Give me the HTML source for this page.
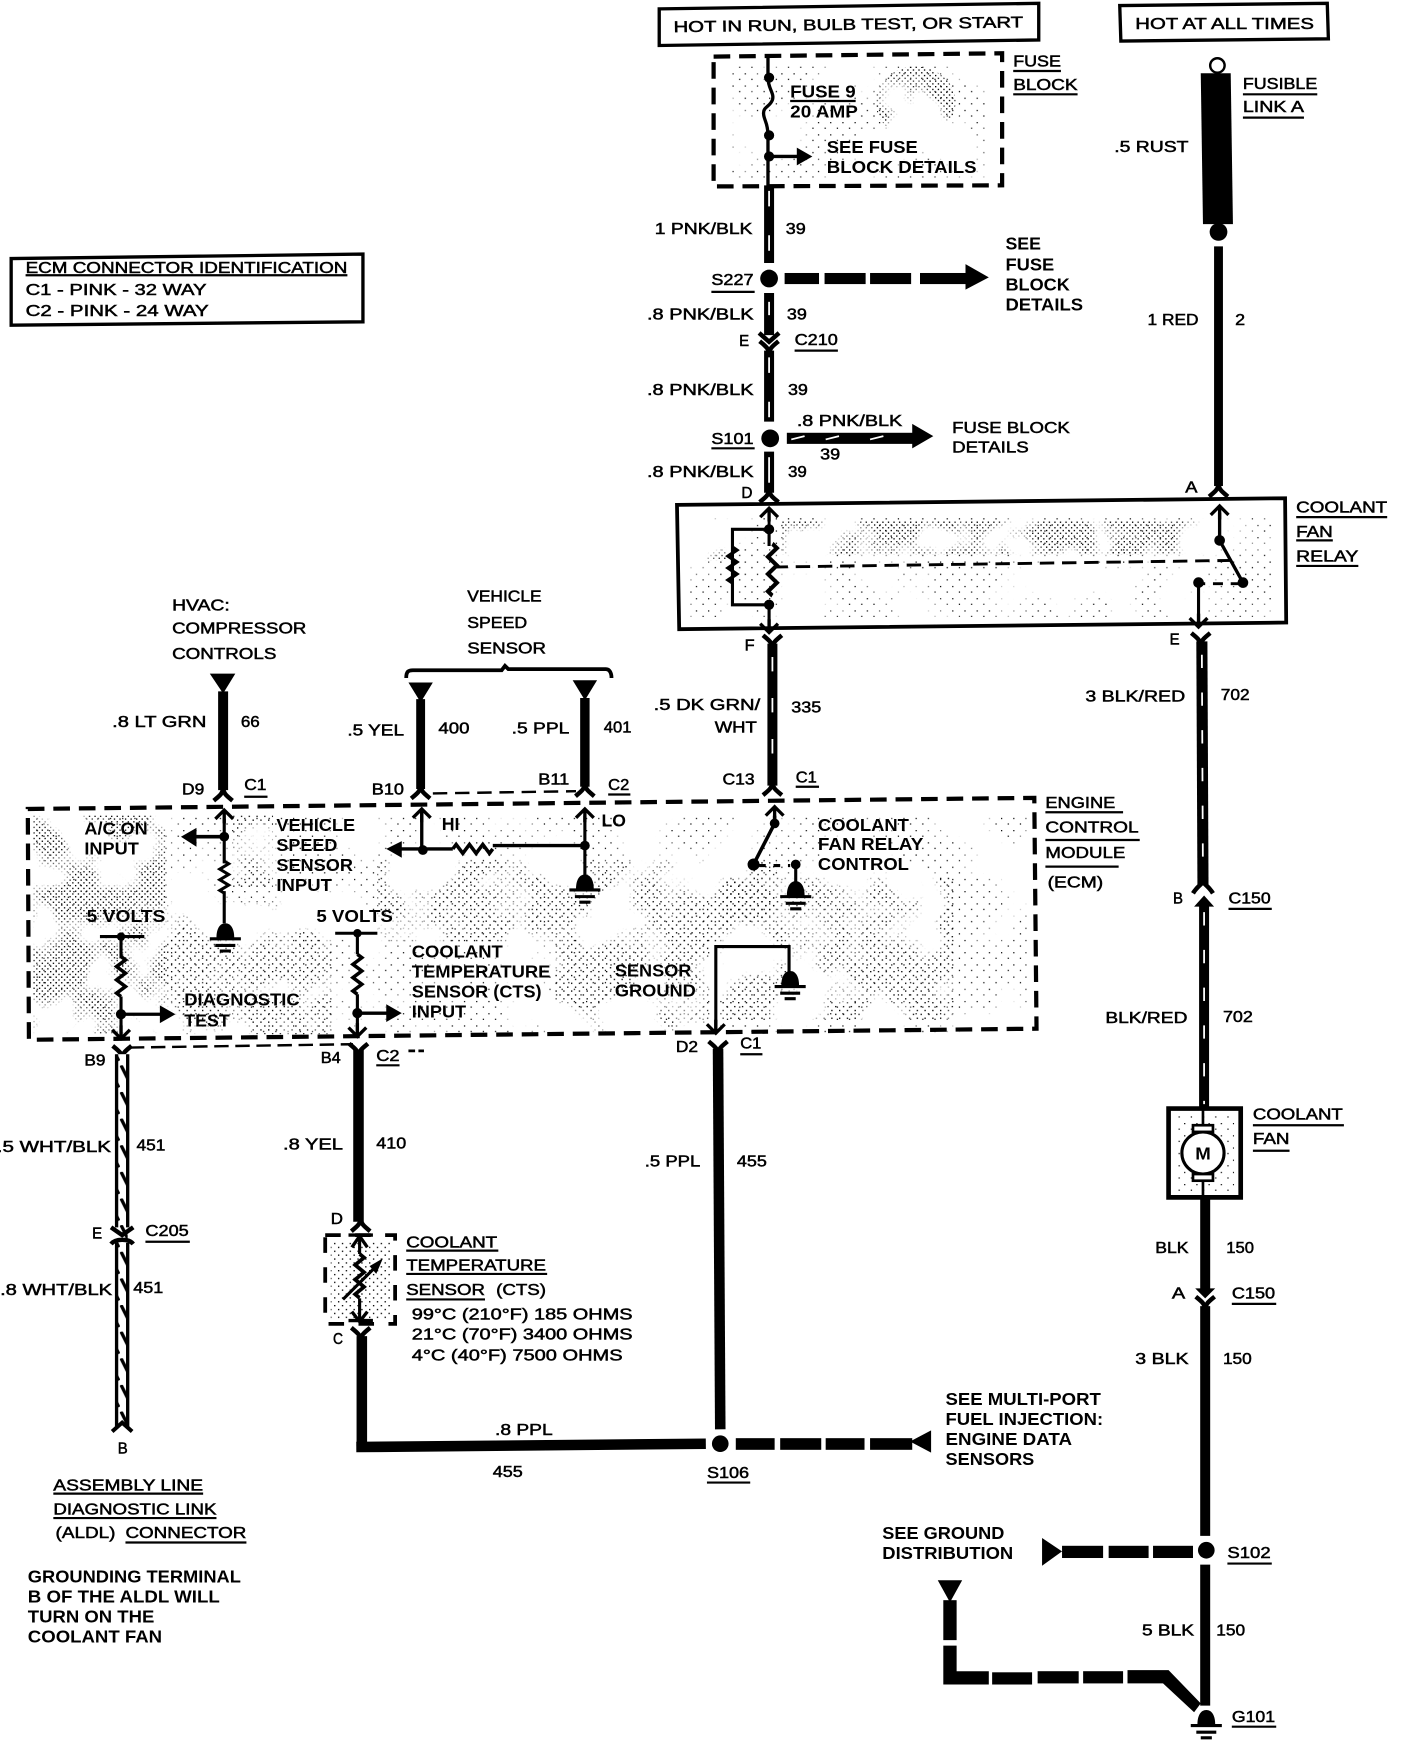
<!DOCTYPE html>
<html><head><meta charset="utf-8"><style>
html,body{margin:0;padding:0;background:#fff}
svg{display:block}
text{font-family:"Liberation Sans",sans-serif;fill:#000}
.r{font-size:14px;stroke:#000;stroke-width:.45px}
.b{font-size:15.5px;font-weight:bold}
.w{fill:none;stroke:#000}
.t{fill:none;stroke:#fff;stroke-width:1.6}
</style></head><body>
<svg xmlns="http://www.w3.org/2000/svg" width="1408" height="1740" viewBox="0 0 1268.7 1568">
<defs>
<pattern id="s1" width="7" height="7" patternUnits="userSpaceOnUse"><rect width="1.2" height="1.2" fill="#000"/><rect x="3.5" y="3.5" width="1.2" height="1.2" fill="#000"/></pattern>
<pattern id="s2" width="5" height="5" patternUnits="userSpaceOnUse"><rect width="1.2" height="1.2" fill="#000"/><rect x="2.5" y="2.5" width="1.2" height="1.2" fill="#000"/></pattern>
<pattern id="s3" width="11" height="11" patternUnits="userSpaceOnUse"><rect width="1.1" height="1.1" fill="#000"/><rect x="6" y="5" width="1.1" height="1.1" fill="#000"/></pattern>
<pattern id="hatch" width="12" height="24" patternUnits="userSpaceOnUse"><rect width="12" height="24" fill="#fff"/><path d="M1 0 L11 20" stroke="#000" stroke-width="3"/></pattern>
<filter id="noise" filterUnits="userSpaceOnUse" x="0" y="0" width="1269" height="1568" color-interpolation-filters="sRGB">
<feTurbulence type="fractalNoise" baseFrequency=".02" numOctaves="3" seed="7"/>
<feColorMatrix type="matrix" values="0 0 0 0 1  0 0 0 0 1  0 0 0 0 1  7 0 0 0 -2.9"/>
</filter>
<mask id="patch" maskUnits="userSpaceOnUse" x="0" y="0" width="1269" height="1568"><rect width="1269" height="1568" fill="#fff" filter="url(#noise)"/></mask>
<path id="yd" d="M0 -3 C0 3 -3 5 -8.5 9.5 M0 -3 C0 3 3 5 8.5 9.5" fill="none" stroke="#000" stroke-width="4"/>
<path id="yu" d="M0 3 C0 -3 -3 -5 -8.5 -9.5 M0 3 C0 -3 3 -5 8.5 -9.5" fill="none" stroke="#000" stroke-width="4"/>
<path id="cu" d="M-8 8 L0 0 L8 8 M0 0 V12" fill="none" stroke="#000" stroke-width="3"/>
<path id="cd" d="M-8 -8 L0 0 L8 -8 M0 0 V-12" fill="none" stroke="#000" stroke-width="3"/>
<path id="rv" d="M0 0 L4 3 L-4 9 L4 15 L-4 21 L4 27 L-4 33 L0 36" fill="none" stroke="#000" stroke-width="3.2"/>
<g id="gnd"><path d="M-8 13 C-8 5 -5 0 0 0 C5 0 8 5 8 13Z" fill="#000"/><path d="M-14 14 H14 M-9 20 H9 M-5 25 H5" stroke="#000" stroke-width="2.8"/></g>
</defs>

<!-- stipple -->
<g mask="url(#patch)">
<ellipse cx="825" cy="92" rx="36" ry="32" fill="url(#s2)"/>
<path d="M660 60 H890 V160 H660Z" fill="url(#s3)"/>
<path d="M622 465 H1148 V556 H622Z" fill="url(#s3)"/>
<path d="M704 470 H1090 V500 H704Z" fill="url(#s2)"/>
<path d="M625 470 H655 V505 H625Z" fill="url(#s2)"/>
<path d="M30 733 H925 V932 H30Z" fill="url(#s3)"/>
<path d="M30 735 H150 V932 H30Z" fill="url(#s2)"/>
<path d="M150 810 H300 V932 H150Z" fill="url(#s1)"/>
<path d="M210 735 H246 V800 H210Z" fill="url(#s1)"/>
<path d="M340 775 H700 V850 H340Z" fill="url(#s1)"/>
<path d="M500 850 H640 V930 H500Z" fill="url(#s1)"/>
<path d="M650 790 H860 V920 H650Z" fill="url(#s1)"/>
</g>
<path d="M298 1118 H352 V1190 H298Z" fill="url(#s1)"/>
<path d="M1060 1005 H1112 V1074 H1060Z" fill="url(#s3)"/>

<!-- boxes -->
<g fill="#fff" stroke="#000" stroke-width="3">
<path d="M594 8 L936 3 V36 L594 41Z"/>
<path d="M1009 5 L1196 3 L1197 35 L1010 37Z"/>
<path d="M10 233 L327 229 L327 290 L10 293Z"/>
</g>
<path d="M610 455 L1158 449 L1159 561 L612 567Z" fill="none" stroke="#000" stroke-width="3.4"/>
<path d="M643 51 L903 48 V167 L643 168Z" fill="none" stroke="#000" stroke-width="3.8" stroke-dasharray="15 8"/>
<path d="M25 729 L932 719 L934 927 L26 937Z" fill="none" stroke="#000" stroke-width="3.8" stroke-dasharray="15 8"/>
<path d="M293 1113 H356 V1193 H293Z" fill="none" stroke="#000" stroke-width="3.4" stroke-dasharray="14 13"/>
<path d="M1053 999 H1118 V1079 H1053Z" fill="none" stroke="#000" stroke-width="4.2"/>

<!-- main fuse wire -->
<path d="M692 49 V70 M692 122 V168" class="w" stroke-width="3"/>
<path d="M692 70 C692 80 698 84 696 90 C694 96 688 96 688 102 C688 108 692 110 692 122" class="w" stroke-width="3"/>
<circle cx="693" cy="70" r="4.6"/><circle cx="693" cy="122" r="4.6"/><circle cx="693" cy="141" r="4.6"/>
<path d="M693 141 H722" class="w" stroke-width="3"/><path d="M718 133 L732 141 L718 149Z"/>
<path d="M693 167 V237" class="w" stroke-width="9"/><path d="M693 172 V235" class="t" stroke-dasharray="14 26"/>
<circle cx="693" cy="251" r="8"/>
<g><rect x="707" y="246" width="31" height="10"/><rect x="743" y="246" width="37" height="10"/><rect x="784" y="246" width="37" height="10"/><rect x="829" y="246" width="42" height="10"/><path d="M870 238 L891 250 L870 261Z"/></g>
<path d="M693 264 V302" class="w" stroke-width="9"/><path d="M693 272 V296" class="t" stroke-dasharray="12 30"/>
<path d="M684 300 L693 308 L702 300" class="w" stroke-width="4"/><use href="#yu" x="693" y="317"/>
<path d="M693 316 V380" class="w" stroke-width="9"/><path d="M693 322 V378" class="t" stroke-dasharray="14 26"/>
<circle cx="694" cy="395" r="8"/>
<rect x="709" y="390" width="114" height="10"/><path d="M822 382 L841 393 L822 404Z"/>
<path d="M713 396 L725 393 M744 396 L756 393 M784 396 L796 393" class="t"/>
<path d="M693 407 V444" class="w" stroke-width="9"/><path d="M693 412 V435" class="t"/>
<use href="#yd" x="693" y="443"/>

<!-- relay internals -->
<use href="#cu" x="693" y="458"/><path d="M693 466 V477" class="w" stroke-width="2.6"/>
<circle cx="693" cy="477" r="4.6"/><circle cx="693" cy="545" r="4.6"/>
<path d="M693 477 H660 V545 H693 M693 545 V566 M693 477 V492" class="w" stroke-width="2.8"/>
<use href="#rv" transform="translate(660,493) scale(1,.9)"/>
<use href="#rv" transform="translate(696,490) scale(1,1.3)"/>
<use href="#cd" x="693" y="570"/>
<path d="M697 511 L1111 505" class="w" stroke-width="2.6" stroke-dasharray="13 7"/>
<use href="#cu" x="1099" y="456"/><path d="M1099 462 V487 L1120 525" class="w" stroke-width="3"/>
<circle cx="1099" cy="487" r="4.8"/><circle cx="1120" cy="525" r="4.8"/><circle cx="1080" cy="525" r="4.8"/>
<path d="M1118 526 H1082" class="w" stroke-width="2.6" stroke-dasharray="9 7"/>
<path d="M1080 525 V560" class="w" stroke-width="2.8"/><use href="#cd" x="1080" y="565"/>

<!-- fusible link -->
<circle cx="1097" cy="59" r="6.5" fill="#fff" stroke="#000" stroke-width="2.2"/>
<path d="M1082 66 H1109 L1111 202 H1084Z"/>
<circle cx="1098" cy="209" r="8"/>
<path d="M1098 222 V438" class="w" stroke-width="8"/>
<use href="#yd" x="1098" y="438"/>

<!-- 702 -->
<use href="#yu" x="1082" y="580"/>
<path d="M1083 578 L1084 797" class="w" stroke-width="10"/><path d="M1083 590 L1084 795" class="t" stroke-dasharray="12 22"/>
<path d="M1075 805 C1078 800 1081 798 1084 795 C1087 798 1090 800 1093 805" class="w" stroke-width="4"/>
<path d="M1076 817 L1085 807 L1094 817Z"/>
<path d="M1085 815 V999" class="w" stroke-width="9"/><path d="M1085 822 V995" class="t" stroke-dasharray="12 22"/>

<!-- motor -->
<path d="M1084 999 V1079" class="w" stroke-width="2.4"/>
<ellipse cx="1084" cy="1039" rx="19" ry="19" fill="#fff" stroke="#000" stroke-width="2.8"/>
<rect x="1075" y="1014" width="18" height="6" fill="#fff" stroke="#000" stroke-width="2.4"/>
<rect x="1075" y="1058" width="18" height="6" fill="#fff" stroke="#000" stroke-width="2.4"/>
<text class="b" x="1077" y="1045" textLength="14" lengthAdjust="spacingAndGlyphs">M</text>

<!-- 150 -->
<path d="M1086 1079 V1162" class="w" stroke-width="9"/>
<path d="M1077 1161 L1095 1161 L1086 1170Z"/><use href="#yu" x="1086" y="1178"/>
<path d="M1086 1177 V1384" class="w" stroke-width="9"/>
<circle cx="1087" cy="1397" r="7.5"/>
<rect x="957" y="1393" width="37" height="11"/><rect x="999" y="1393" width="36" height="11"/><rect x="1039" y="1393" width="36" height="11"/>
<path d="M939 1386 L957 1398 L939 1411Z"/>
<path d="M1086 1410 V1537" class="w" stroke-width="9"/>
<use href="#gnd" x="1087" y="1541"/>
<path d="M845 1424 H867 L856 1444Z"/>
<rect x="850" y="1442" width="12" height="36"/>
<path d="M850 1483 H862 V1506 H891 V1518 H850Z"/>
<rect x="894" y="1507" width="36" height="11"/><rect x="935" y="1506" width="37" height="11"/><rect x="976" y="1506" width="36" height="11"/>
<path d="M1016 1505 H1053 L1082 1535 L1076 1543 L1048 1517 H1016Z"/>

<!-- left wires -->
<path d="M189 607 H212 L201 625Z"/><path d="M201 623 V712" class="w" stroke-width="9"/><use href="#yd" x="201" y="712"/>
<path d="M368 615 H390 L379 633Z"/><path d="M379 630 V711" class="w" stroke-width="8"/><use href="#yd" x="379" y="710"/>
<path d="M516 613 H538 L527 631Z"/><path d="M527 629 V709" class="w" stroke-width="8.5"/><use href="#yd" x="527" y="708"/>
<path d="M366 611 C366 605 368 604 372 604 H452 L455 600 L458 603 H546 C549 603 551 606 551 611" class="w" stroke-width="3.4"/>
<path d="M390 715 L519 713" class="w" stroke-width="2.2" stroke-dasharray="13 7"/>
<use href="#yu" x="696" y="582"/>
<path d="M696 580 V708" class="w" stroke-width="9"/><path d="M696 592 V700" class="t" stroke-dasharray="13 24"/>
<use href="#yd" x="696" y="707"/>

<!-- ECM internals -->
<use href="#cu" x="202" y="730"/>
<path d="M202 738 V778 M202 803 V832" class="w" stroke-width="2.8"/><use href="#rv" transform="translate(202,776) scale(1,.8)"/>
<circle cx="202" cy="754" r="4.4"/><path d="M202 754 H172" class="w" stroke-width="3.2"/><path d="M177 746 L163 754 L177 763Z"/>
<use href="#gnd" x="203" y="832"/>
<path d="M380 730 V766 M381 765 H360 M528 762 H444 M408 765 H381" class="w" stroke-width="3"/>
<use href="#cu" x="380" y="729"/><use href="#cu" x="527" y="729"/>
<path d="M527 735 V790" class="w" stroke-width="2.8"/>
<use href="#rv" transform="translate(408,765) rotate(-90) scale(1,1)"/>
<circle cx="381" cy="766" r="4.4"/><circle cx="527" cy="762" r="4.4"/>
<path d="M362 758 L348 765 L362 773Z"/>
<use href="#gnd" x="527" y="788"/>
<path d="M90 844 H130 M302 841 H340" class="w" stroke-width="2.8"/>
<circle cx="109" cy="844" r="3.8"/><circle cx="322" cy="841" r="3.8"/>
<path d="M109 844 V863 M109 898 V934" class="w" stroke-width="2.8"/>
<path d="M322 841 V860 M322 896 V932" class="w" stroke-width="2.8"/>
<use href="#rv" x="109" y="862"/><use href="#rv" x="322" y="860"/>
<circle cx="109" cy="914" r="4.6"/><circle cx="322" cy="913" r="4.6"/>
<path d="M109 914 H146 M322 913 H350" class="w" stroke-width="3"/>
<path d="M144 906 L158 914 L144 922Z"/><path d="M348 905 L362 913 L348 921Z"/>
<use href="#cd" x="109" y="936"/><use href="#cd" x="322" y="934"/>
<use href="#cu" x="698" y="727"/>
<path d="M698 735 V742 L679 779" class="w" stroke-width="3.2"/><circle cx="698" cy="742" r="4.4"/><circle cx="679" cy="779" r="5.4"/>
<path d="M684 780 H712" class="w" stroke-width="2.8" stroke-dasharray="6 7"/><circle cx="717" cy="779" r="4.4"/>
<path d="M717 779 V796" class="w" stroke-width="2.8"/><use href="#gnd" x="717" y="794"/>
<path d="M645 929 V853 H711 V880" class="w" stroke-width="2.8"/>
<use href="#cd" x="645" y="931"/><use href="#gnd" x="712" y="875"/>

<!-- ALDL -->
<use href="#yu" x="110" y="952" />
<rect x="105" y="950" width="10" height="337" fill="url(#hatch)"/>
<path d="M105 950 V1106 M115 950 V1106 M105 1120 V1287 M115 1120 V1287" class="w" stroke-width="3"/>
<path d="M100 1106 L110 1113 L120 1106" class="w" stroke-width="4"/><path d="M100 1121 C104 1116 116 1116 120 1121" class="w" stroke-width="4"/>
<path d="M101 1290 L110 1282 L119 1290" class="w" stroke-width="3.6"/>
<path d="M117 944 L318 941" class="w" stroke-width="2.2" stroke-dasharray="13 6"/>
<path d="M368 947 H374 M377 947 H382" class="w" stroke-width="2.4"/>

<!-- 410/455 -->
<use href="#yu" x="323" y="950"/>
<path d="M323 946 V1101" class="w" stroke-width="9.5"/><use href="#yd" x="325" y="1100"/>
<path d="M314 1113 H336 M314 1190 H336" class="w" stroke-width="3"/>
<path d="M324 1114 V1130 M324 1170 V1190" class="w" stroke-width="2.8"/>
<path d="M317 1124 L324 1114 L331 1124 M317 1182 L324 1191 L331 1182" class="w" stroke-width="3"/>
<use href="#rv" transform="translate(324,1130) scale(1,1.1)"/>
<path d="M309 1171 L336 1144" class="w" stroke-width="2.8"/><path d="M345 1134 L333 1141 L339 1148Z"/>
<use href="#yu" x="325" y="1206"/>
<path d="M326 1204 V1308" class="w" stroke-width="9.5"/><path d="M321 1304 L636 1301" class="w" stroke-width="9.5"/>
<use href="#yu" x="647" y="948"/>
<path d="M647 945 L649 1288" class="w" stroke-width="9.5"/>
<circle cx="649" cy="1301" r="7.5"/>
<rect x="663" y="1296" width="35" height="10.5"/><rect x="703" y="1296" width="37" height="10.5"/><rect x="744" y="1296" width="35" height="10.5"/><rect x="784" y="1296" width="38" height="10.5"/>
<path d="M820 1299 L839 1289 V1309Z"/>

<!-- underlines -->
<g class="w" stroke-width="2">
<path d="M712 91 H771 M913 64 H956 M913 85 H971 M1120 85 H1187 M1120 106 H1175"/>
<path d="M641 263 H680 M716 316 H755 M641 404 H680"/>
<path d="M1168 466 H1250 M1168 487 H1201 M1168 510 H1224"/>
<path d="M23 248 H313"/>
<path d="M220 718 H241 M548 716 H568 M717 709 H738"/>
<path d="M942 732 H1012 M942 757 H1027 M942 781 H1008"/>
<path d="M1107 819 H1146 M1129 1014 H1211 M1129 1037 H1162"/>
<path d="M339 960 H360 M667 950 H687 M131 1119 H171"/>
<path d="M366 1127 H449 M366 1148 H493 M366 1171 H437"/>
<path d="M48 1346 H183 M48 1368 H195 M113 1390 H222"/>
<path d="M637 1336 H676 M1106 1409 H1146 M1110 1175 H1150 M1110 1556 H1150"/>
</g>

<!-- text -->
<g class="r">
<text x="607" y="29" transform="rotate(-.8 607 29)" textLength="315" lengthAdjust="spacingAndGlyphs">HOT IN RUN, BULB TEST, OR START</text>
<text x="1023" y="26" textLength="161" lengthAdjust="spacingAndGlyphs">HOT AT ALL TIMES</text>
<text x="913" y="60" textLength="43" lengthAdjust="spacingAndGlyphs">FUSE</text>
<text x="913" y="81" textLength="58" lengthAdjust="spacingAndGlyphs">BLOCK</text>
<text x="1120" y="80" textLength="67" lengthAdjust="spacingAndGlyphs">FUSIBLE</text>
<text x="1120" y="101" textLength="55" lengthAdjust="spacingAndGlyphs">LINK A</text>
<text x="1004" y="137" textLength="67" lengthAdjust="spacingAndGlyphs">.5 RUST</text>
<text x="590" y="211" textLength="88" lengthAdjust="spacingAndGlyphs">1 PNK/BLK</text>
<text x="708" y="211" textLength="18" lengthAdjust="spacingAndGlyphs">39</text>
<text x="641" y="257" textLength="38" lengthAdjust="spacingAndGlyphs">S227</text>
<text x="583" y="288" textLength="96" lengthAdjust="spacingAndGlyphs">.8 PNK/BLK</text>
<text x="709" y="288" textLength="18" lengthAdjust="spacingAndGlyphs">39</text>
<text x="666" y="312" textLength="9" lengthAdjust="spacingAndGlyphs">E</text>
<text x="716" y="311" textLength="39" lengthAdjust="spacingAndGlyphs">C210</text>
<text x="583" y="356" textLength="96" lengthAdjust="spacingAndGlyphs">.8 PNK/BLK</text>
<text x="710" y="356" textLength="18" lengthAdjust="spacingAndGlyphs">39</text>
<text x="641" y="400" textLength="38" lengthAdjust="spacingAndGlyphs">S101</text>
<text x="718" y="384" textLength="95" lengthAdjust="spacingAndGlyphs">.8 PNK/BLK</text>
<text x="739" y="414" textLength="18" lengthAdjust="spacingAndGlyphs">39</text>
<text x="858" y="390" textLength="106" lengthAdjust="spacingAndGlyphs">FUSE BLOCK</text>
<text x="858" y="408" textLength="69" lengthAdjust="spacingAndGlyphs">DETAILS</text>
<text x="583" y="430" textLength="96" lengthAdjust="spacingAndGlyphs">.8 PNK/BLK</text>
<text x="710" y="430" textLength="17" lengthAdjust="spacingAndGlyphs">39</text>
<text x="668" y="449" textLength="10" lengthAdjust="spacingAndGlyphs">D</text>
<text x="1034" y="293" textLength="46" lengthAdjust="spacingAndGlyphs">1 RED</text>
<text x="1113" y="293" textLength="9" lengthAdjust="spacingAndGlyphs">2</text>
<text x="1068" y="444" textLength="11" lengthAdjust="spacingAndGlyphs">A</text>
<text x="1168" y="462" textLength="82" lengthAdjust="spacingAndGlyphs">COOLANT</text>
<text x="1168" y="484" textLength="33" lengthAdjust="spacingAndGlyphs">FAN</text>
<text x="1168" y="506" textLength="56" lengthAdjust="spacingAndGlyphs">RELAY</text>
<text x="671" y="586" textLength="9" lengthAdjust="spacingAndGlyphs">F</text>
<text x="1054" y="581" textLength="9" lengthAdjust="spacingAndGlyphs">E</text>
<text x="978" y="632" textLength="90" lengthAdjust="spacingAndGlyphs">3 BLK/RED</text>
<text x="1100" y="631" textLength="26" lengthAdjust="spacingAndGlyphs">702</text>
<text x="1057" y="814" textLength="9" lengthAdjust="spacingAndGlyphs">B</text>
<text x="1107" y="814" textLength="38" lengthAdjust="spacingAndGlyphs">C150</text>
<text x="996" y="922" textLength="74" lengthAdjust="spacingAndGlyphs">BLK/RED</text>
<text x="1102" y="921" textLength="27" lengthAdjust="spacingAndGlyphs">702</text>
<text x="1129" y="1009" textLength="81" lengthAdjust="spacingAndGlyphs">COOLANT</text>
<text x="1129" y="1031" textLength="33" lengthAdjust="spacingAndGlyphs">FAN</text>
<text x="942" y="728" textLength="63" lengthAdjust="spacingAndGlyphs">ENGINE</text>
<text x="942" y="750" textLength="84" lengthAdjust="spacingAndGlyphs">CONTROL</text>
<text x="942" y="773" textLength="72" lengthAdjust="spacingAndGlyphs">MODULE</text>
<text x="944" y="800" textLength="50" lengthAdjust="spacingAndGlyphs">(ECM)</text>
<text x="589" y="640" textLength="96" lengthAdjust="spacingAndGlyphs">.5 DK GRN/</text>
<text x="644" y="660" textLength="38" lengthAdjust="spacingAndGlyphs">WHT</text>
<text x="713" y="642" textLength="27" lengthAdjust="spacingAndGlyphs">335</text>
<text x="651" y="707" textLength="29" lengthAdjust="spacingAndGlyphs">C13</text>
<text x="717" y="705" textLength="19" lengthAdjust="spacingAndGlyphs">C1</text>
<text x="155" y="550" textLength="52" lengthAdjust="spacingAndGlyphs">HVAC:</text>
<text x="155" y="571" textLength="121" lengthAdjust="spacingAndGlyphs">COMPRESSOR</text>
<text x="155" y="594" textLength="94" lengthAdjust="spacingAndGlyphs">CONTROLS</text>
<text x="421" y="542" textLength="67" lengthAdjust="spacingAndGlyphs">VEHICLE</text>
<text x="421" y="566" textLength="54" lengthAdjust="spacingAndGlyphs">SPEED</text>
<text x="421" y="589" textLength="71" lengthAdjust="spacingAndGlyphs">SENSOR</text>
<text x="101" y="655" textLength="85" lengthAdjust="spacingAndGlyphs">.8 LT GRN</text>
<text x="217" y="655" textLength="17" lengthAdjust="spacingAndGlyphs">66</text>
<text x="313" y="663" textLength="51" lengthAdjust="spacingAndGlyphs">.5 YEL</text>
<text x="395" y="661" textLength="28" lengthAdjust="spacingAndGlyphs">400</text>
<text x="461" y="661" textLength="52" lengthAdjust="spacingAndGlyphs">.5 PPL</text>
<text x="544" y="660" textLength="25" lengthAdjust="spacingAndGlyphs">401</text>
<text x="164" y="716" textLength="20" lengthAdjust="spacingAndGlyphs">D9</text>
<text x="220" y="712" textLength="20" lengthAdjust="spacingAndGlyphs">C1</text>
<text x="335" y="716" textLength="29" lengthAdjust="spacingAndGlyphs">B10</text>
<text x="485" y="707" textLength="28" lengthAdjust="spacingAndGlyphs">B11</text>
<text x="548" y="712" textLength="19" lengthAdjust="spacingAndGlyphs">C2</text>
<text x="76" y="960" textLength="19" lengthAdjust="spacingAndGlyphs">B9</text>
<text x="289" y="958" textLength="18" lengthAdjust="spacingAndGlyphs">B4</text>
<text x="339" y="956" textLength="21" lengthAdjust="spacingAndGlyphs">C2</text>
<text x="609" y="948" textLength="20" lengthAdjust="spacingAndGlyphs">D2</text>
<text x="667" y="945" textLength="19" lengthAdjust="spacingAndGlyphs">C1</text>
<text x="-3" y="1038" textLength="103" lengthAdjust="spacingAndGlyphs">.5 WHT/BLK</text>
<text x="123" y="1037" textLength="26" lengthAdjust="spacingAndGlyphs">451</text>
<text x="83" y="1116" textLength="9" lengthAdjust="spacingAndGlyphs">E</text>
<text x="131" y="1114" textLength="39" lengthAdjust="spacingAndGlyphs">C205</text>
<text x="0" y="1167" textLength="101" lengthAdjust="spacingAndGlyphs">.8 WHT/BLK</text>
<text x="120" y="1165" textLength="27" lengthAdjust="spacingAndGlyphs">451</text>
<text x="106" y="1310" textLength="9" lengthAdjust="spacingAndGlyphs">B</text>
<text x="255" y="1036" textLength="54" lengthAdjust="spacingAndGlyphs">.8 YEL</text>
<text x="339" y="1035" textLength="27" lengthAdjust="spacingAndGlyphs">410</text>
<text x="298" y="1103" textLength="11" lengthAdjust="spacingAndGlyphs">D</text>
<text x="300" y="1211" textLength="9" lengthAdjust="spacingAndGlyphs">C</text>
<text x="581" y="1051" textLength="50" lengthAdjust="spacingAndGlyphs">.5 PPL</text>
<text x="664" y="1051" textLength="27" lengthAdjust="spacingAndGlyphs">455</text>
<text x="366" y="1124" textLength="82" lengthAdjust="spacingAndGlyphs">COOLANT</text>
<text x="366" y="1145" textLength="126" lengthAdjust="spacingAndGlyphs">TEMPERATURE</text>
<text x="366" y="1167" textLength="71" lengthAdjust="spacingAndGlyphs">SENSOR</text>
<text x="447" y="1167" textLength="45" lengthAdjust="spacingAndGlyphs">(CTS)</text>
<text x="371" y="1189" textLength="199" lengthAdjust="spacingAndGlyphs">99°C (210°F) 185 OHMS</text>
<text x="371" y="1207" textLength="199" lengthAdjust="spacingAndGlyphs">21°C (70°F) 3400 OHMS</text>
<text x="371" y="1226" textLength="190" lengthAdjust="spacingAndGlyphs">4°C (40°F) 7500 OHMS</text>
<text x="446" y="1293" textLength="52" lengthAdjust="spacingAndGlyphs">.8 PPL</text>
<text x="444" y="1331" textLength="27" lengthAdjust="spacingAndGlyphs">455</text>
<text x="637" y="1332" textLength="38" lengthAdjust="spacingAndGlyphs">S106</text>
<text x="48" y="1343" textLength="135" lengthAdjust="spacingAndGlyphs">ASSEMBLY LINE</text>
<text x="48" y="1365" textLength="147" lengthAdjust="spacingAndGlyphs">DIAGNOSTIC LINK</text>
<text x="50" y="1386" textLength="54" lengthAdjust="spacingAndGlyphs">(ALDL)</text>
<text x="113" y="1386" textLength="109" lengthAdjust="spacingAndGlyphs">CONNECTOR</text>
<text x="1041" y="1129" textLength="30" lengthAdjust="spacingAndGlyphs">BLK</text>
<text x="1105" y="1129" textLength="25" lengthAdjust="spacingAndGlyphs">150</text>
<text x="1056" y="1170" textLength="12" lengthAdjust="spacingAndGlyphs">A</text>
<text x="1110" y="1170" textLength="39" lengthAdjust="spacingAndGlyphs">C150</text>
<text x="1023" y="1229" textLength="48" lengthAdjust="spacingAndGlyphs">3 BLK</text>
<text x="1102" y="1229" textLength="26" lengthAdjust="spacingAndGlyphs">150</text>
<text x="1106" y="1404" textLength="39" lengthAdjust="spacingAndGlyphs">S102</text>
<text x="1029" y="1474" textLength="47" lengthAdjust="spacingAndGlyphs">5 BLK</text>
<text x="1096" y="1474" textLength="26" lengthAdjust="spacingAndGlyphs">150</text>
<text x="1110" y="1552" textLength="39" lengthAdjust="spacingAndGlyphs">G101</text>
<text x="23" y="246" textLength="290" lengthAdjust="spacingAndGlyphs">ECM CONNECTOR IDENTIFICATION</text>
<text x="23" y="266" textLength="163" lengthAdjust="spacingAndGlyphs">C1 - PINK - 32 WAY</text>
<text x="23" y="285" textLength="165" lengthAdjust="spacingAndGlyphs">C2 - PINK - 24 WAY</text>
</g>
<g class="b">
<text x="712" y="88" textLength="59" lengthAdjust="spacingAndGlyphs">FUSE 9</text>
<text x="712" y="106" textLength="61" lengthAdjust="spacingAndGlyphs">20 AMP</text>
<text x="745" y="138" textLength="82" lengthAdjust="spacingAndGlyphs">SEE FUSE</text>
<text x="745" y="156" textLength="135" lengthAdjust="spacingAndGlyphs">BLOCK DETAILS</text>
<text x="906" y="225" textLength="32" lengthAdjust="spacingAndGlyphs">SEE</text>
<text x="906" y="244" textLength="44" lengthAdjust="spacingAndGlyphs">FUSE</text>
<text x="906" y="262" textLength="58" lengthAdjust="spacingAndGlyphs">BLOCK</text>
<text x="906" y="280" textLength="70" lengthAdjust="spacingAndGlyphs">DETAILS</text>
<text x="737" y="749" textLength="82" lengthAdjust="spacingAndGlyphs">COOLANT</text>
<text x="737" y="766" textLength="95" lengthAdjust="spacingAndGlyphs">FAN RELAY</text>
<text x="737" y="784" textLength="82" lengthAdjust="spacingAndGlyphs">CONTROL</text>
<text x="76" y="752" textLength="57" lengthAdjust="spacingAndGlyphs">A/C ON</text>
<text x="76" y="770" textLength="49" lengthAdjust="spacingAndGlyphs">INPUT</text>
<text x="249" y="749" textLength="71" lengthAdjust="spacingAndGlyphs">VEHICLE</text>
<text x="249" y="767" textLength="55" lengthAdjust="spacingAndGlyphs">SPEED</text>
<text x="249" y="785" textLength="69" lengthAdjust="spacingAndGlyphs">SENSOR</text>
<text x="249" y="803" textLength="50" lengthAdjust="spacingAndGlyphs">INPUT</text>
<text x="78" y="831" textLength="71" lengthAdjust="spacingAndGlyphs">5 VOLTS</text>
<text x="285" y="831" textLength="69" lengthAdjust="spacingAndGlyphs">5 VOLTS</text>
<text x="371" y="863" textLength="82" lengthAdjust="spacingAndGlyphs">COOLANT</text>
<text x="371" y="881" textLength="125" lengthAdjust="spacingAndGlyphs">TEMPERATURE</text>
<text x="371" y="899" textLength="117" lengthAdjust="spacingAndGlyphs">SENSOR (CTS)</text>
<text x="371" y="917" textLength="49" lengthAdjust="spacingAndGlyphs">INPUT</text>
<text x="166" y="906" textLength="104" lengthAdjust="spacingAndGlyphs">DIAGNOSTIC</text>
<text x="166" y="925" textLength="41" lengthAdjust="spacingAndGlyphs">TEST</text>
<text x="554" y="880" textLength="69" lengthAdjust="spacingAndGlyphs">SENSOR</text>
<text x="554" y="898" textLength="73" lengthAdjust="spacingAndGlyphs">GROUND</text>
<text x="398" y="748" textLength="16" lengthAdjust="spacingAndGlyphs">HI</text>
<text x="542" y="745" textLength="22" lengthAdjust="spacingAndGlyphs">LO</text>
<text x="25" y="1426" textLength="192" lengthAdjust="spacingAndGlyphs">GROUNDING TERMINAL</text>
<text x="25" y="1444" textLength="173" lengthAdjust="spacingAndGlyphs">B OF THE ALDL WILL</text>
<text x="25" y="1462" textLength="114" lengthAdjust="spacingAndGlyphs">TURN ON THE</text>
<text x="25" y="1480" textLength="121" lengthAdjust="spacingAndGlyphs">COOLANT FAN</text>
<text x="852" y="1266" textLength="140" lengthAdjust="spacingAndGlyphs">SEE MULTI-PORT</text>
<text x="852" y="1284" textLength="142" lengthAdjust="spacingAndGlyphs">FUEL INJECTION:</text>
<text x="852" y="1302" textLength="114" lengthAdjust="spacingAndGlyphs">ENGINE DATA</text>
<text x="852" y="1320" textLength="80" lengthAdjust="spacingAndGlyphs">SENSORS</text>
<text x="795" y="1387" textLength="110" lengthAdjust="spacingAndGlyphs">SEE GROUND</text>
<text x="795" y="1405" textLength="118" lengthAdjust="spacingAndGlyphs">DISTRIBUTION</text>
</g>
</svg>
</body></html>
